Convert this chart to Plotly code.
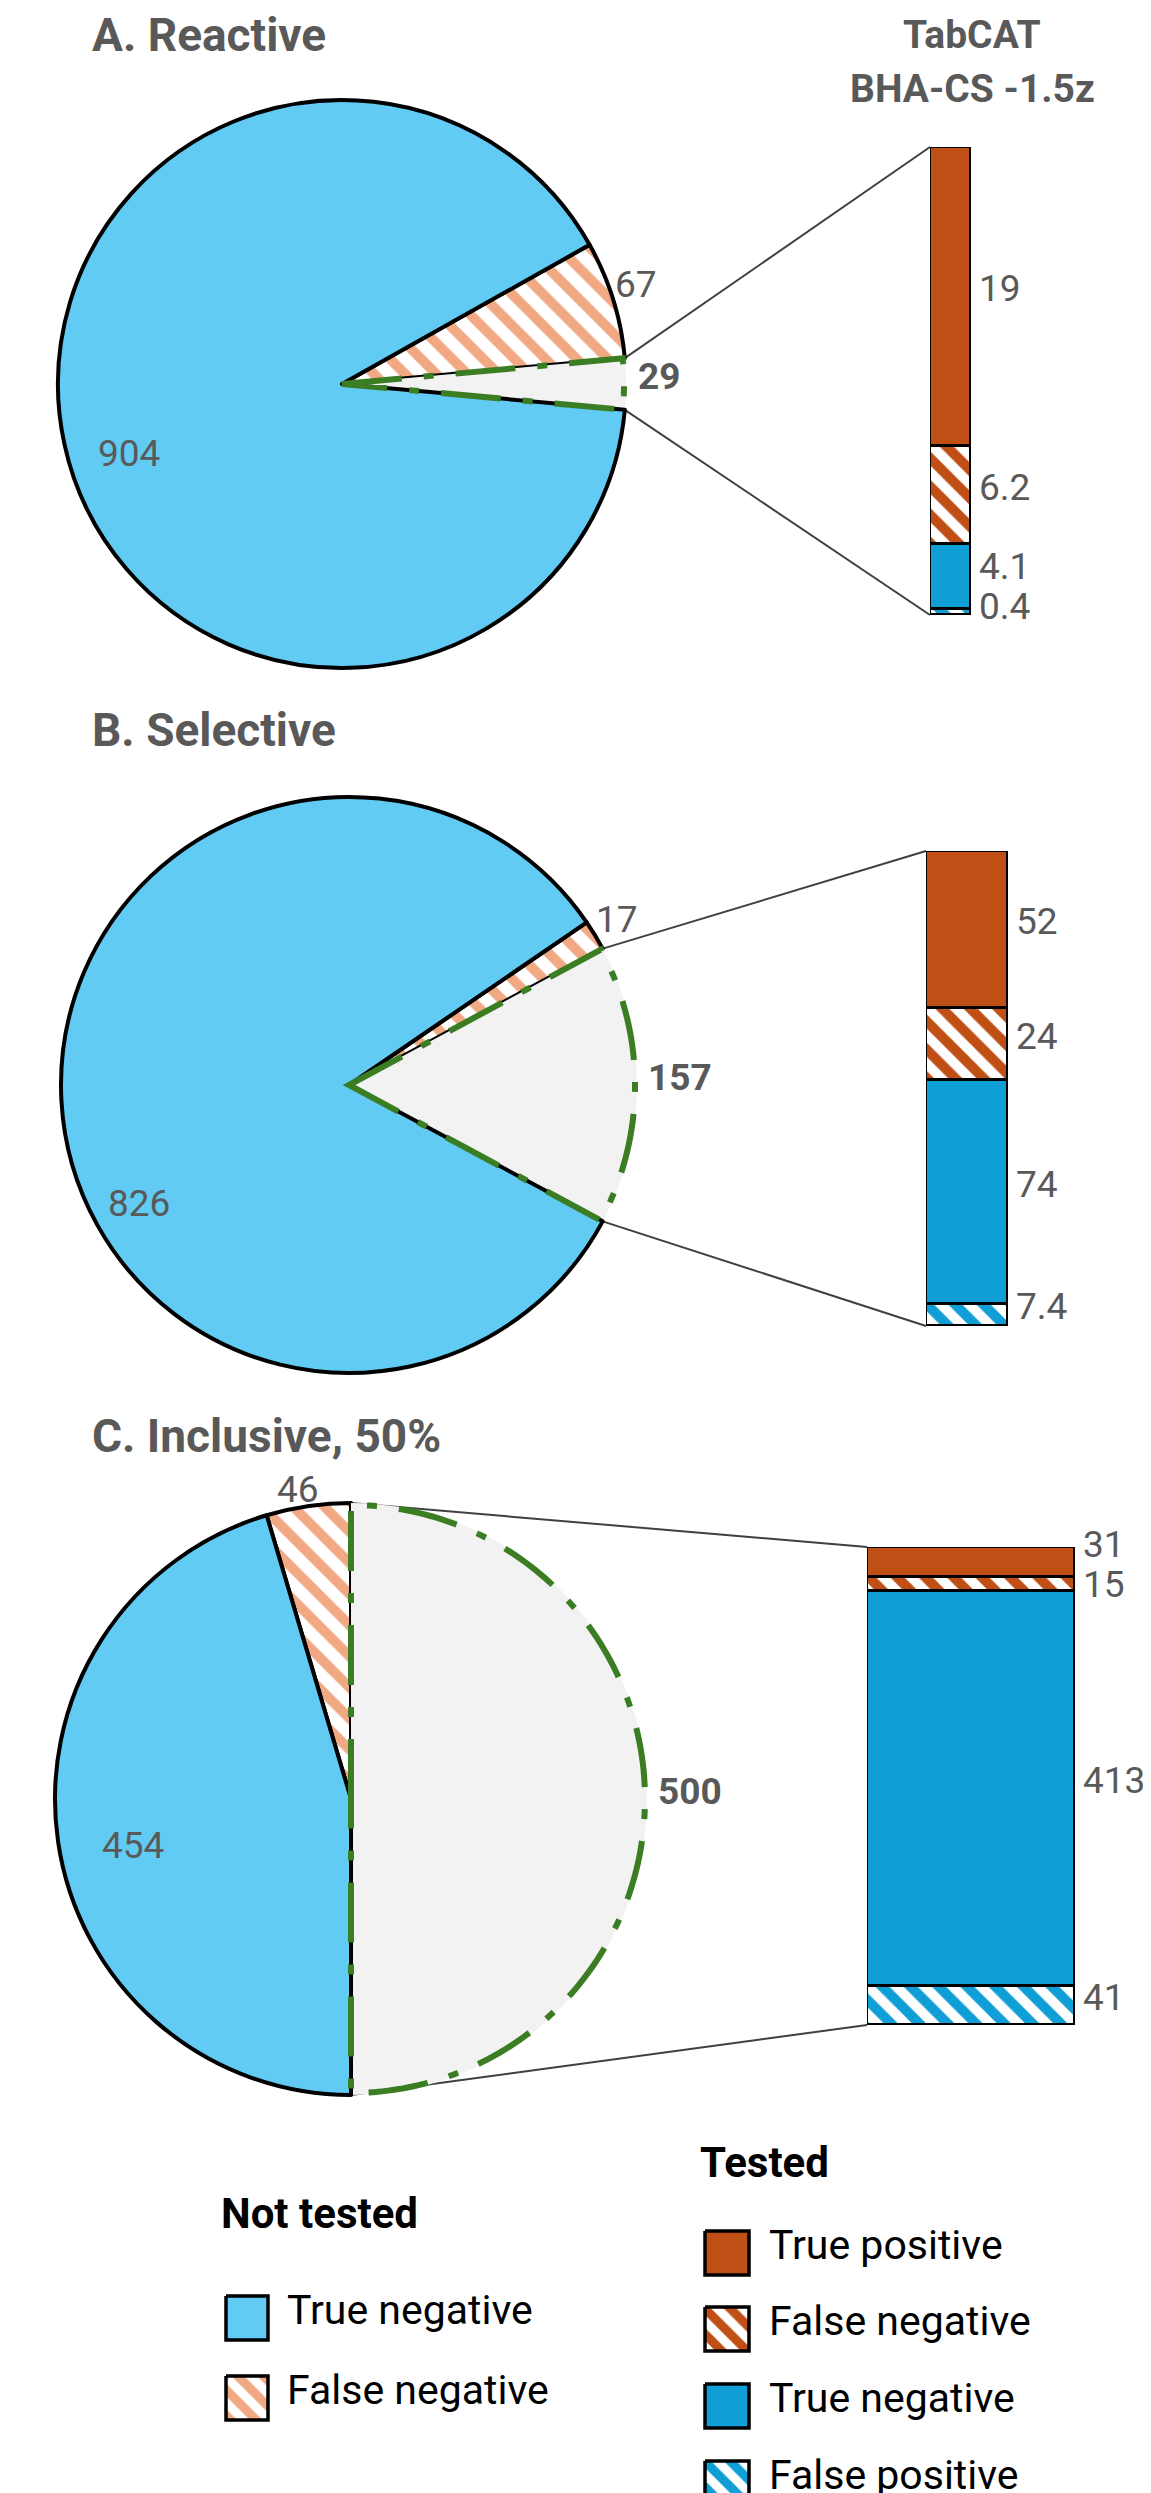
import numpy as np
import plotly.graph_objects as go

# ---------------- data ----------------
PANEL_TITLES = ["A. Reactive", "B. Selective", "C. Inclusive, 50%"]
NOT_TESTED_TRUE_NEG = [904, 826, 454]
NOT_TESTED_FALSE_NEG = [67, 17, 46]
TESTED = [29, 157, 500]

TESTED_CATEGORIES = ["True positive", "False negative", "True negative", "False positive"]
TESTED_TRUE_POS = [19, 52, 31]
TESTED_FALSE_NEG = [6.2, 24, 15]
TESTED_TRUE_NEG = [4.1, 74, 413]
TESTED_FALSE_POS = [0.4, 7.4, 41]

BAR_HEADER = ["TabCAT", "BHA-CS -1.5z"]
LEGEND_NOT_TESTED = ["True negative", "False negative"]
LEGEND_TESTED = ["True positive", "False negative", "True negative", "False positive"]

# ---------------- layout / style ----------------
W, H = 1151, 2493
PIE_CX = [334, 341, 343]
PIE_CY = [376, 1077, 1791]
PIE_R = [284, 288, 296]
BAR_X = [(922, 963), (918, 1000), (859, 1067)]
BAR_Y = [(139, 607), (843, 1318), (1539, 2017)]
TITLE_X = 82
TITLE_Y = [35, 730, 1436]
BLUE_LABEL_POLAR = [(250, 0.80), (239, 0.85), (256, 0.76)]
TEXT_DY = 8          # lift texts a little (px)
LABEL_GAP = 40       # minimum vertical distance between bar labels (px)

LIGHT_BLUE = "#61CBF3"
PEACH = "#F1A983"
GREY_FILL = "#F2F2F2"
DARK_ORANGE = "#C04F15"
MID_BLUE = "#0F9ED5"
GREEN = "#3B7D23"
TEXT_GREY = "#595959"
LINE_GREY = "#404040"
FONT = "Roboto, Liberation Sans, Arial, sans-serif"
LABEL_SIZE = 37

fig = go.Figure()
shapes = []
annotations = []
layout_axes = {
    "xaxis": dict(domain=[0, 1], range=[0, W], visible=False, fixedrange=True),
    "yaxis": dict(domain=[0, 1], range=[H, 0], visible=False, fixedrange=True),
}


def polar(cx, cy, r, ang):
    a = np.radians(ang)
    return cx + r * np.sin(a), cy - r * np.cos(a)


def label(x, y, text, size=LABEL_SIZE, bold=False, color=TEXT_GREY, xanchor="center",
          xref="x", yref="y", xshift=0, yshift=TEXT_DY):
    t = f"<b>{text}</b>" if bold else text
    annotations.append(dict(x=x, y=y, xref=xref, yref=yref, text=t, showarrow=False,
                            xanchor=xanchor, yanchor="middle", xshift=xshift, yshift=yshift,
                            font=dict(family=FONT, size=size, color=color)))


# invisible point keeping the full-page helper axis alive
fig.add_trace(go.Scatter(x=[0], y=[0], mode="markers", marker=dict(opacity=0),
                         hoverinfo="skip", showlegend=False, xaxis="x", yaxis="y"))

for i in range(3):
    cx, cy, r = PIE_CX[i], PIE_CY[i], PIE_R[i]
    fn, tested, tn = NOT_TESTED_FALSE_NEG[i], TESTED[i], NOT_TESTED_TRUE_NEG[i]
    total = fn + tested + tn
    rotation = 90 - 360 * (fn + tested / 2) / total

    fig.add_trace(go.Pie(
        values=[fn, tested, tn],
        labels=["Not tested: false negative", "Tested", "Not tested: true negative"],
        sort=False, direction="clockwise", rotation=rotation,
        domain=dict(x=[(cx - r) / W, (cx + r) / W], y=[1 - (cy + r) / H, 1 - (cy - r) / H]),
        marker=dict(colors=[PEACH, GREY_FILL, LIGHT_BLUE],
                    line=dict(color=["black", "rgba(0,0,0,0)", "black"], width=[4, 0, 4]),
                    pattern=dict(shape=["\\", "", ""], fgcolor=[PEACH, GREY_FILL, LIGHT_BLUE],
                                 bgcolor=["white", GREY_FILL, LIGHT_BLUE], fgopacity=1,
                                 size=22, solidity=0.45)),
        textinfo="none", hoverinfo="skip", showlegend=False))

    # slice angles (clockwise from 12 o'clock)
    a_fn_mid = rotation + 180 * fn / total
    a0 = rotation + 360 * fn / total
    a1 = a0 + 360 * tested / total
    a_t_mid = (a0 + a1) / 2

    # green dash-dot outline of the tested slice
    arc = np.linspace(a0, a1, 150)
    pts = [(cx, cy)] + [polar(cx, cy, r - 2, a) for a in arc] + [(cx, cy)]
    path = "M " + " L ".join(f"{x:.2f},{y:.2f}" for x, y in pts) + " Z"
    shapes.append(dict(type="path", path=path, xref="x", yref="y", layer="above",
                       line=dict(color=GREEN, width=6, dash="60px,22px,10px,22px"),
                       fillcolor="rgba(0,0,0,0)"))

    # connectors pie -> bar
    bx0, bx1 = BAR_X[i]
    byt, byb = BAR_Y[i]
    p0 = polar(cx, cy, r, a0)
    p1 = polar(cx, cy, r, a1)
    shapes.append(dict(type="line", xref="x", yref="y", x0=p0[0], y0=p0[1], x1=bx0, y1=byt,
                       layer="below", line=dict(color=LINE_GREY, width=2)))
    shapes.append(dict(type="line", xref="x", yref="y", x0=p1[0], y0=p1[1], x1=bx0, y1=byb,
                       layer="below", line=dict(color=LINE_GREY, width=2)))

    # outside pie labels: nearest box corner touches the rim at the slice middle
    def outside(ang, text, pad, bold=False, yshift=TEXT_DY):
        a = np.radians(ang)
        s, c = np.sin(a), np.cos(a)
        w = len(text) * 0.56 * LABEL_SIZE
        h = 30
        px, py = polar(cx, cy, r, ang)
        sx = np.sign(s) if abs(s) > 0.3 else s / 0.3
        sy = np.sign(c) if abs(c) > 0.2 else c / 0.2
        lx = px + sx * w / 2 + s * pad
        ly = py - sy * h / 2 - c * pad
        label(lx, ly, text, bold=bold, yshift=yshift)

    outside(a_fn_mid, f"{fn:g}", 2, yshift=0)
    outside(a_t_mid, f"{tested:g}", 12, bold=True)
    ang, frac = BLUE_LABEL_POLAR[i]
    bl = polar(cx, cy, r * frac, ang)
    label(bl[0], bl[1], f"{tn:g}")

    # panel title
    label(TITLE_X, TITLE_Y[i], PANEL_TITLES[i], size=46, bold=True, xanchor="left")

    # stacked bar of the tested group (bottom -> top)
    k = i + 2
    segs = [
        ("False positive", TESTED_FALSE_POS[i], MID_BLUE, "\\"),
        ("True negative", TESTED_TRUE_NEG[i], MID_BLUE, ""),
        ("False negative", TESTED_FALSE_NEG[i], DARK_ORANGE, "\\"),
        ("True positive", TESTED_TRUE_POS[i], DARK_ORANGE, ""),
    ]
    seg_total = sum(v for _, v, _, _ in segs)
    layout_axes[f"xaxis{k}"] = dict(domain=[bx0 / W, bx1 / W], range=[-0.5, 0.5], visible=False,
                                    fixedrange=True, anchor=f"y{k}")
    layout_axes[f"yaxis{k}"] = dict(domain=[1 - byb / H, 1 - byt / H], range=[0, seg_total],
                                    visible=False, fixedrange=True, anchor=f"x{k}")
    px_per = (byb - byt) / seg_total
    cum = 0
    mids = []
    for name, v, col, shp in segs:
        fig.add_trace(go.Bar(
            x=[0], y=[v], width=1, name=name, xaxis=f"x{k}", yaxis=f"y{k}",
            marker=dict(color=col if shp == "" else "white",
                        line=dict(color="black", width=3.5),
                        pattern=dict(shape=shp, fgcolor=col, bgcolor="white", fgopacity=1,
                                     size=20, solidity=0.5)),
            cliponaxis=False, hoverinfo="skip", showlegend=False))
        mids.append(byb - (cum + v / 2) * px_per)
        cum += v
    # spread labels that would collide
    for _ in range(100):
        for j in range(len(mids) - 1):
            gap = mids[j] - mids[j + 1]
            if gap < LABEL_GAP:
                d = (LABEL_GAP - gap) / 2
                mids[j] += d
                mids[j + 1] -= d
    for (name, v, col, shp), ypx in zip(segs, mids):
        label(0.5, (byb - ypx) / px_per, f"{v:g}", xanchor="left",
              xref=f"x{k}", yref=f"y{k}", xshift=6)

# bar header
label(964, 35, BAR_HEADER[0], size=39, bold=True)
label(964, 89, BAR_HEADER[1], size=39, bold=True)


# ---------------- manual legend ----------------
def swatch(x0, x1, yc, color, shape):
    y0, y1 = yc - 22, yc + 22
    fig.add_trace(go.Scatter(
        x=[x0, x1, x1, x0, x0], y=[y0, y0, y1, y1, y0], mode="lines", fill="toself",
        fillcolor=color if shape == "" else "white",
        fillpattern=dict(shape=shape, fgcolor=color, bgcolor="white", fgopacity=1,
                         size=18, solidity=0.5),
        line=dict(color="black", width=3.5), hoverinfo="skip", showlegend=False,
        xaxis="x", yaxis="y"))


label(211, 2213, "Not tested", size=42, bold=True, color="black", xanchor="left")
nt_style = [(LIGHT_BLUE, ""), (PEACH, "\\")]
for j, (txt, yc) in enumerate(zip(LEGEND_NOT_TESTED, [2310, 2390])):
    swatch(218, 260, yc, *nt_style[j])
    label(277, yc, txt, size=41, color="black", xanchor="left")

label(690, 2162, "Tested", size=42, bold=True, color="black", xanchor="left")
t_style = [(DARK_ORANGE, ""), (DARK_ORANGE, "\\"), (MID_BLUE, ""), (MID_BLUE, "\\")]
for j, (txt, yc) in enumerate(zip(LEGEND_TESTED, [2245, 2321, 2398, 2475])):
    swatch(697, 741, yc, *t_style[j])
    label(759, yc, txt, size=41, color="black", xanchor="left")

fig.update_layout(
    width=W, height=H, margin=dict(l=0, r=0, t=0, b=0),
    paper_bgcolor="white", plot_bgcolor="rgba(0,0,0,0)",
    barmode="stack", bargap=0, showlegend=False,
    shapes=shapes, annotations=annotations,
    **layout_axes,
)

fig.write_html("out.html")
